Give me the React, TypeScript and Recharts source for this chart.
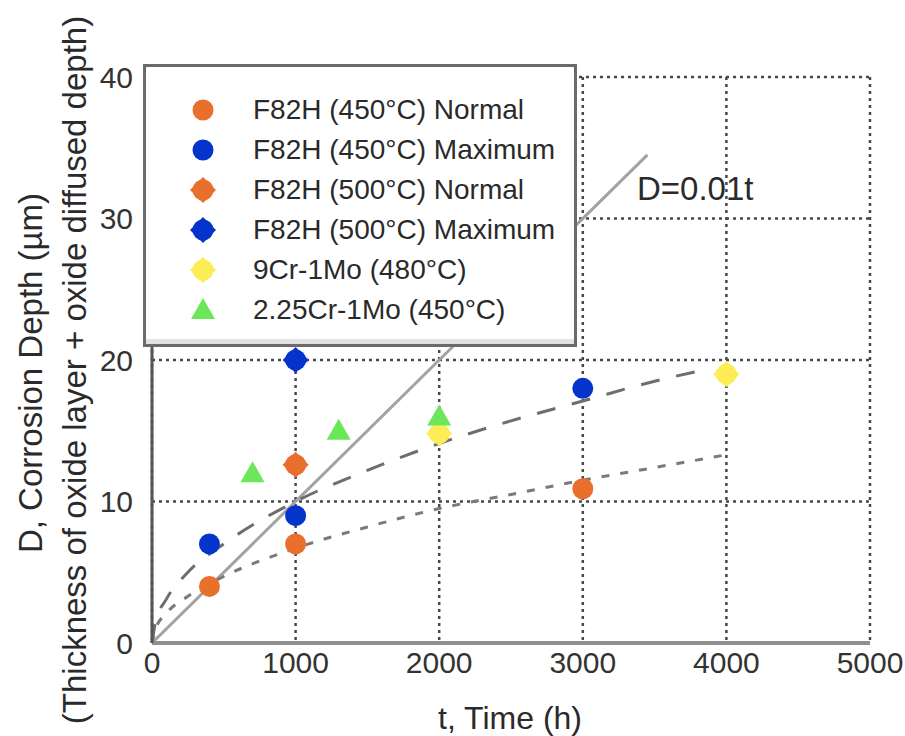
import {
  CartesianGrid,
  ComposedChart,
  Line,
  Scatter,
  XAxis,
  YAxis,
} from 'recharts';

// measured points (t in h, D in µm)
const normal450T = [400, 1000, 3000];
const normal450D = [4, 7, 10.9];
const max450T = [400, 1000, 3000];
const max450D = [7, 9, 18];
const normal500T = [1000];
const normal500D = [12.6];
const max500T = [1000];
const max500D = [20];
const cr9T = [2000, 4000];
const cr9D = [14.8, 19];
const cr225T = [700, 1300, 2000];
const cr225D = [12, 15, 16];

// fitted curves
const maxFitT = [0, 25, 100, 250, 500, 1000, 1500, 2000, 2500, 3000, 3500, 3800];
const maxFitD = [0, 1.5, 3.1, 5.0, 7.0, 10.0, 12.2, 14.1, 15.7, 17.1, 18.5, 19.2];
const normalFitT = [0, 25, 100, 250, 500, 1000, 1500, 2000, 2500, 3000, 3500, 4000];
const normalFitD = [0, 1.0, 2.1, 3.3, 4.7, 6.7, 8.2, 9.5, 10.5, 11.5, 12.4, 13.3];
const refLineT = [0, 3450];
const refLineD = [0, 34.5];

const X_TICKS = [0, 1000, 2000, 3000, 4000, 5000];
const Y_TICKS = [0, 10, 20, 30, 40];

const FONT = '"Liberation Sans", Arial, Helvetica, sans-serif';
const ORANGE = '#e8702c';
const BLUE = '#0434cc';
const YELLOW = '#fcec55';
const GREEN = '#6ce65a';

type Pt = { t: number; D: number };
type MarkerKind = 'circle' | 'blob' | 'triangle';

const zip = (ts: number[], ds: number[]): Pt[] => ts.map((t, i) => ({ t, D: ds[i] }));

const SERIES: Array<{ name: string; data: Pt[]; color: string; kind: MarkerKind }> = [
  { name: 'F82H (450°C) Normal', data: zip(normal450T, normal450D), color: ORANGE, kind: 'circle' },
  { name: 'F82H (450°C) Maximum', data: zip(max450T, max450D), color: BLUE, kind: 'circle' },
  { name: 'F82H (500°C) Normal', data: zip(normal500T, normal500D), color: ORANGE, kind: 'blob' },
  { name: 'F82H (500°C) Maximum', data: zip(max500T, max500D), color: BLUE, kind: 'blob' },
  { name: '9Cr-1Mo (480°C)', data: zip(cr9T, cr9D), color: YELLOW, kind: 'blob' },
  { name: '2.25Cr-1Mo (450°C)', data: zip(cr225T, cr225D), color: GREEN, kind: 'triangle' },
];

function Marker({ cx, cy, color, kind }: { cx: number; cy: number; color: string; kind: MarkerKind }) {
  if (kind === 'circle') {
    return <circle cx={cx} cy={cy} r={10.5} fill={color} />;
  }
  if (kind === 'triangle') {
    return (
      <polygon
        points={`${cx},${cy - 12} ${cx + 12},${cy + 9} ${cx - 12},${cy + 9}`}
        fill={color}
      />
    );
  }
  return (
    <g>
      <circle cx={cx} cy={cy} r={10.5} fill={color} />
      <polygon
        points={`${cx},${cy - 13} ${cx + 13},${cy} ${cx},${cy + 13} ${cx - 13},${cy}`}
        fill={color}
      />
    </g>
  );
}

function LegendBox() {
  return (
    <div
      style={{
        position: 'absolute',
        left: 143,
        top: 64,
        width: 428,
        height: 254,
        border: '3px solid #6a6a6a',
        background: '#fff',
        boxShadow: 'inset 0 -5px 0 #e2e2e2',
        paddingTop: 23,
        boxSizing: 'content-box',
        fontFamily: FONT,
        fontSize: 28,
        color: '#2a2a2a',
      }}
    >
      {SERIES.map((s) => (
        <div key={s.name} style={{ display: 'flex', alignItems: 'center', height: 40 }}>
          <svg width={30} height={30} style={{ marginLeft: 42 }}>
            <Marker cx={15} cy={15} color={s.color} kind={s.kind} />
          </svg>
          <span style={{ marginLeft: 35, whiteSpace: 'nowrap' }}>{s.name}</span>
        </div>
      ))}
    </div>
  );
}

export default function App() {
  return (
    <div style={{ position: 'relative', width: 905, height: 736, background: '#fff' }}>
      <style>{'body{margin:0}'}</style>
      <ComposedChart
        width={905}
        height={736}
        margin={{ top: 77, right: 35, bottom: 0, left: 0 }}
      >
        <CartesianGrid stroke="#484848" strokeWidth={2.5} strokeDasharray="3 4" />
        <XAxis
          type="number"
          dataKey="t"
          domain={[0, 5000]}
          ticks={X_TICKS}
          height={93}
          tickSize={0}
          tickMargin={9}
          axisLine={{ stroke: '#8f8f8f', strokeWidth: 4 }}
          tickLine={false}
          tick={{ fontSize: 30, fill: '#333', fontFamily: FONT }}
        />
        <YAxis
          type="number"
          dataKey="D"
          domain={[0, 40]}
          ticks={Y_TICKS}
          width={152}
          tickSize={0}
          tickMargin={19}
          axisLine={{ stroke: '#555', strokeWidth: 3 }}
          tickLine={false}
          tick={{ fontSize: 30, fill: '#333', fontFamily: FONT }}
        />
        <Line
          data={zip(refLineT, refLineD)}
          dataKey="D"
          stroke="#a2a2a2"
          strokeWidth={3}
          dot={false}
          legendType="none"
          isAnimationActive={false}
        />
        <Line
          data={zip(maxFitT, maxFitD)}
          dataKey="D"
          type="monotone"
          stroke="#6e6e6e"
          strokeWidth={3}
          strokeDasharray="19 17"
          dot={false}
          legendType="none"
          isAnimationActive={false}
        />
        <Line
          data={zip(normalFitT, normalFitD)}
          dataKey="D"
          type="monotone"
          stroke="#7a7a7a"
          strokeWidth={3}
          strokeDasharray="8 11"
          dot={false}
          legendType="none"
          isAnimationActive={false}
        />
        {SERIES.map((s) => (
          <Scatter
            key={s.name}
            name={s.name}
            data={s.data}
            dataKey="D"
            isAnimationActive={false}
            shape={(p: any) => <Marker cx={p.cx} cy={p.cy} color={s.color} kind={s.kind} />}
          />
        ))}
      </ComposedChart>

      <LegendBox />

      <svg
        width={905}
        height={736}
        style={{ position: 'absolute', left: 0, top: 0, pointerEvents: 'none' }}
        fontFamily={FONT}
        fill="#2a2a2a"
      >
        <text x={637} y={200} fontSize={33}>
          D=0.01t
        </text>
        <text x={510} y={729} fontSize={32} textAnchor="middle">
          t, Time (h)
        </text>
        <text
          x={30}
          y={373}
          fontSize={33}
          textAnchor="middle"
          dominantBaseline="central"
          transform="rotate(-90 30 373)"
        >
          D, Corrosion Depth (µm)
        </text>
        <text
          x={74}
          y={370}
          fontSize={33}
          textAnchor="middle"
          dominantBaseline="central"
          transform="rotate(-90 74 370)"
        >
          (Thickness of oxide layer + oxide diffused depth)
        </text>
      </svg>
    </div>
  );
}
